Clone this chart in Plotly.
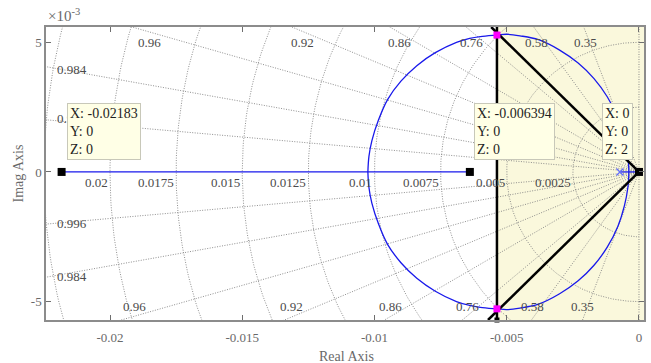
import numpy as np
import plotly.graph_objects as go

# ---------------- data ----------------
# upper branch of the complex root-locus loop (lower branch is its conjugate)
locus_re = [-0.00038, -0.00042, -0.00055, -0.00080, -0.00120, -0.00170, -0.00230,
            -0.00300, -0.00380, -0.00450, -0.00500, -0.00537, -0.00600, -0.00640,
            -0.00690, -0.00770, -0.00840, -0.00900, -0.00950, -0.00985, -0.01010,
            -0.01021, -0.01025]
locus_im = [0.0, 0.00060, 0.00130, 0.00210, 0.00290, 0.00360, 0.00420,
            0.00470, 0.00510, 0.00525, 0.00531, 0.00528, 0.00522, 0.00515,
            0.00500, 0.00460, 0.00410, 0.00350, 0.00280, 0.00200, 0.00120,
            0.00060, 0.0]
# real-axis locus segments
real_seg1 = [-0.02183, -0.006394]
real_seg2 = [-0.00072, 0.0]
# open-loop poles
ol_poles_re = [-0.00072, 0.0]
# closed-loop poles (magenta)
cl_re = [-0.00537, -0.00537]
cl_im = [0.00528, -0.00528]
# data tips
tip_x = [-0.02183, -0.006394, 0.0]
tip_xtxt = ["-0.02183", "-0.006394", "0"]
tip_z = [0, 0, 2]
# design requirements
sigma_req = -0.00537
zeta_req = 0.707
# s-grid
zeta_grid = [0.35, 0.58, 0.76, 0.86, 0.92, 0.96, 0.984, 0.996]
wn_grid = [0.0025, 0.005, 0.0075, 0.01, 0.0125, 0.015, 0.0175, 0.02, 0.0225]
wn_labels = ["0.0025", "0.005", "0.0075", "0.01", "0.0125", "0.015", "0.0175", "0.02"]
# damping label positions (centres) along top / bottom edges
zlab_top_vals = ["0.35", "0.58", "0.76", "0.86", "0.92", "0.96"]
zlab_top_x = [-0.00204, -0.00386, -0.00635, -0.00904, -0.01274, -0.01849]
zlab_bot_x = [-0.00212, -0.00401, -0.00647, -0.00941, -0.01312, -0.01909]
zlab_left_vals = ["0.984", "0.996", "0.996", "0.984"]
zlab_left_y = [0.00397, 0.00206, -0.00200, -0.00405]
x_ticks = [-0.02, -0.015, -0.01, -0.005, 0.0]
x_ticktext = ["-0.02", "-0.015", "-0.01", "-0.005", "0"]
y_ticks = [-0.005, 0.0, 0.005]
y_ticktext = ["-5", "0", "5"]

XMIN, XMAX = -0.02242, 0.00019
YMIN, YMAX = -0.00571, 0.00559

FONT = "Liberation Serif"
GRID = "rgb(130,130,130)"
GRID_DASH = "1px,1.5px"
BLUE = "rgb(25,25,235)"

fig = go.Figure()

# shaded (forbidden) region right of settling-time line
fig.add_shape(type="rect", xref="x", yref="y", x0=sigma_req, x1=XMAX, y0=YMIN, y1=YMAX,
              fillcolor="rgb(250,248,220)", line=dict(width=0), layer="below")

# s-grid: damping lines
for z in zeta_grid:
    r = 0.04
    for sgn in (1, -1):
        fig.add_trace(go.Scatter(x=[0, -r * z], y=[0, sgn * r * np.sqrt(1 - z * z)],
                                 mode="lines", line=dict(color=GRID, width=0.9, dash=GRID_DASH),
                                 hoverinfo="skip", showlegend=False))
# s-grid: natural-frequency semicircles
th = np.linspace(np.pi / 2, 3 * np.pi / 2, 241)
for w in wn_grid:
    fig.add_trace(go.Scatter(x=w * np.cos(th), y=w * np.sin(th), mode="lines",
                             line=dict(color=GRID, width=0.9, dash=GRID_DASH),
                             hoverinfo="skip", showlegend=False))
# imaginary axis grid line
fig.add_trace(go.Scatter(x=[0, 0], y=[YMIN, YMAX], mode="lines",
                         line=dict(color=GRID, width=0.9, dash=GRID_DASH),
                         hoverinfo="skip", showlegend=False))

# root locus
fig.add_trace(go.Scatter(x=real_seg1, y=[0, 0], mode="lines", line=dict(color=BLUE, width=1.3),
                         showlegend=False))
fig.add_trace(go.Scatter(x=real_seg2, y=[0, 0], mode="lines", line=dict(color=BLUE, width=1.3),
                         showlegend=False))
fig.add_trace(go.Scatter(x=locus_re, y=locus_im, mode="lines",
                         line=dict(color=BLUE, width=1.3, shape="spline", smoothing=1.0),
                         showlegend=False))
fig.add_trace(go.Scatter(x=locus_re, y=[-v for v in locus_im], mode="lines",
                         line=dict(color=BLUE, width=1.3, shape="spline", smoothing=1.0),
                         showlegend=False))
fig.add_trace(go.Scatter(x=ol_poles_re, y=[0, 0], mode="markers",
                         marker=dict(symbol="x-thin-open", size=7, line=dict(color=BLUE, width=1.3)),
                         showlegend=False))

# design requirement lines
fig.add_trace(go.Scatter(x=[sigma_req, sigma_req], y=[YMIN, YMAX + 0.00008], mode="lines",
                         line=dict(color="black", width=2.5), showlegend=False, cliponaxis=False))
kz = zeta_req / np.sqrt(1 - zeta_req ** 2)
fig.add_trace(go.Scatter(x=[0, -YMAX * kz], y=[0, YMAX], mode="lines",
                         line=dict(color="black", width=2.5), showlegend=False))
fig.add_trace(go.Scatter(x=[0, YMIN * kz], y=[0, YMIN], mode="lines",
                         line=dict(color="black", width=2.5), showlegend=False))
fig.add_trace(go.Scatter(x=[sigma_req, sigma_req], y=[YMAX + 0.00008, YMIN], mode="markers",
                         marker=dict(symbol="square", size=5, color="black"),
                         showlegend=False, cliponaxis=False))

# closed-loop poles
fig.add_trace(go.Scatter(x=cl_re, y=cl_im, mode="markers",
                         marker=dict(symbol="square", size=7, color="#ff00ff"),
                         showlegend=False, cliponaxis=False))
# data tip markers
fig.add_trace(go.Scatter(x=tip_x, y=[0, 0, 0], mode="markers",
                         marker=dict(symbol="square", size=8, color="black"),
                         showlegend=False, cliponaxis=False))

ann = []
LBL = dict(family=FONT, size=13, color="rgb(75,75,75)")
# wn labels
for w, t in zip(wn_grid, wn_labels):
    ann.append(dict(x=-w, y=-0.00042, text=t, xanchor="right", yanchor="middle",
                    showarrow=False, font=LBL))
# damping labels
for t, xt, xb in zip(zlab_top_vals, zlab_top_x, zlab_bot_x):
    ann.append(dict(x=xt, y=0.00501, text=t, xanchor="center", yanchor="middle",
                    showarrow=False, font=LBL))
    ann.append(dict(x=xb, y=-0.00517, text=t, xanchor="center", yanchor="middle",
                    showarrow=False, font=LBL))
for t, yl in zip(zlab_left_vals, zlab_left_y):
    ann.append(dict(x=XMIN + 0.00034, y=yl, text=t, xanchor="left", yanchor="middle",
                    showarrow=False, font=LBL))

# data tip boxes
tip_box_x = [-0.02163, -0.00624, -0.00140]
for bx, xt, z in zip(tip_box_x, tip_xtxt, tip_z):
    ann.append(dict(x=bx, y=0.00266, xanchor="left", yanchor="top",
                    text=f"X: {xt}<br>Y: 0<br>Z: {z}", align="left", showarrow=False,
                    bgcolor="rgb(255,255,230)", bordercolor="rgb(200,200,185)",
                    borderwidth=1, borderpad=2,
                    font=dict(family=FONT, size=14, color="rgb(30,30,30)")))

AX = "rgb(105,105,105)"
ann.append(dict(xref="paper", yref="paper", x=0, y=1.0, yshift=1, xanchor="left", yanchor="bottom",
                text="×10<sup>-3</sup>", showarrow=False, font=dict(family=FONT, size=15, color=AX)))
ann.append(dict(xref="paper", yref="paper", x=0.502, y=0, yshift=-27, xanchor="center", yanchor="top",
                text="Real Axis", showarrow=False, font=dict(family=FONT, size=14, color=AX)))
ann.append(dict(xref="paper", yref="paper", x=0, xshift=-28, y=0.5, xanchor="center", yanchor="middle",
                text="Imag Axis", textangle=-90, showarrow=False, font=dict(family=FONT, size=14, color=AX)))

fig.update_layout(
    width=651, height=363, margin=dict(l=46, r=7, t=27, b=43, autoexpand=False),
    paper_bgcolor="white", plot_bgcolor="white",
    annotations=ann, showlegend=False,
    font=dict(family=FONT, size=13, color=AX),
)
fig.update_xaxes(range=[XMIN, XMAX], tickvals=x_ticks, ticktext=x_ticktext, automargin=False,
                 showgrid=False, zeroline=False, showline=True, linecolor="rgb(140,140,140)",
                 linewidth=1.5, mirror="ticks", ticks="inside", ticklen=5, tickcolor="rgb(110,110,110)",
                 tickfont=dict(family=FONT, size=13, color=AX), ticklabelstandoff=5)
fig.update_yaxes(range=[YMIN, YMAX], tickvals=y_ticks, ticktext=y_ticktext, automargin=False,
                 showgrid=False, zeroline=False, showline=True, linecolor="rgb(140,140,140)",
                 linewidth=1.5, mirror="ticks", ticks="inside", ticklen=5, tickcolor="rgb(110,110,110)",
                 tickfont=dict(family=FONT, size=13, color=AX))

fig.write_html("out.html", config={"displayModeBar": False},
               post_script="document.body.style.margin='0px';document.body.style.overflow='hidden';")
